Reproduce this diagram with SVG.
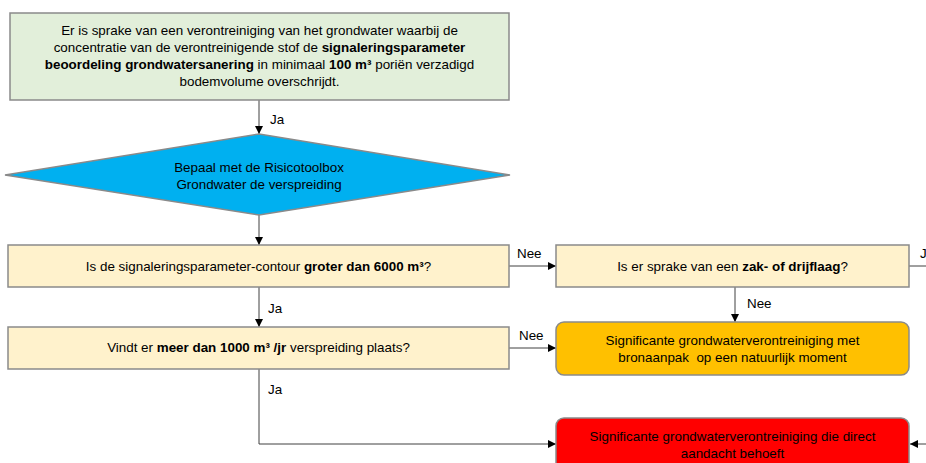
<svg xmlns="http://www.w3.org/2000/svg" width="926" height="463" viewBox="0 0 926 463">
<defs>
<marker id="ah" viewBox="0 0 10 10" refX="10" refY="5" markerWidth="8" markerHeight="8" markerUnits="userSpaceOnUse" orient="auto">
<path d="M0,0 L10,5 L0,10 z" fill="#000"/>
</marker>
<style>
text{font-family:"Liberation Sans",Arial,sans-serif;font-size:13.4px;fill:#000;white-space:pre}
.c{text-anchor:middle}
.b{font-weight:bold}
.box{stroke:#8a8a8a;stroke-width:1.5}
.ln{fill:none;stroke:#404040;stroke-width:1}
.arr{fill:none;stroke:#404040;stroke-width:1;marker-end:url(#ah)}
</style>
</defs>
<rect width="926" height="463" fill="#fff"/>
<g id="connectors">
<line class="arr" x1="259" y1="100" x2="259" y2="134"/>
<text x="270" y="124">Ja</text>
<line class="arr" x1="259" y1="215" x2="259" y2="245"/>
<line class="arr" x1="259" y1="287" x2="259" y2="327"/>
<text x="268" y="313">Ja</text>
<polyline class="arr" points="259,369 259,444 556,444"/>
<text x="268" y="394">Ja</text>
<line class="arr" x1="509" y1="266" x2="556" y2="266"/>
<text x="517" y="258">Nee</text>
<line class="arr" x1="509" y1="348" x2="556" y2="348"/>
<text x="519" y="340">Nee</text>
<line class="arr" x1="735" y1="287" x2="735" y2="322"/>
<text x="747" y="308">Nee</text>
<line class="ln" x1="909" y1="266" x2="926" y2="266"/>
<text x="920" y="258">J</text>
<line class="arr" x1="926" y1="444" x2="910" y2="444"/>
</g>
<g id="start">
<rect class="box" x="10" y="13" width="499" height="87" fill="#e2efda"/>
<text class="c" x="259.5" y="35">Er is sprake van een verontreiniging van het grondwater waarbij de</text>
<text class="c" x="259.5" y="52">concentratie van de verontreinigende stof de <tspan class="b">signaleringsparameter</tspan></text>
<text class="c" x="259.5" y="69"><tspan class="b">beoordeling grondwatersanering</tspan> in minimaal <tspan class="b">100 m³</tspan> poriën verzadigd</text>
<text class="c" x="259.5" y="86">bodemvolume overschrijdt.</text>
</g>
<g id="bepaal">
<polygon class="box" points="259,134 510,175 259,215 5,175" fill="#00b0f0"/>
<text class="c" x="259" y="172">Bepaal met de Risicotoolbox</text>
<text class="c" x="259" y="189">Grondwater de verspreiding</text>
</g>
<g id="contour">
<rect class="box" x="8" y="245" width="501" height="42" fill="#fff2cc"/>
<text class="c" x="258.5" y="271">Is de signaleringsparameter-contour <tspan class="b">groter dan 6000 m³</tspan>?</text>
</g>
<g id="verspreiding">
<rect class="box" x="8" y="327" width="501" height="42" fill="#fff2cc"/>
<text class="c" x="258.5" y="352">Vindt er <tspan class="b">meer dan 1000 m³ /jr</tspan> verspreiding plaats?</text>
</g>
<g id="laag">
<rect class="box" x="556" y="245" width="353" height="42" fill="#fff2cc"/>
<text class="c" x="732.5" y="271">Is er sprake van een <tspan class="b">zak- of drijflaag</tspan>?</text>
</g>
<g id="natuurlijk">
<rect class="box" x="556" y="322" width="353" height="53" rx="8" fill="#ffc000"/>
<text class="c" x="732.5" y="345">Significante grondwaterverontreiniging met</text>
<text class="c" x="732.5" y="362">bronaanpak  op een natuurlijk moment</text>
</g>
<g id="direct">
<rect class="box" x="556" y="418" width="353" height="60" rx="8" fill="#ff0000"/>
<text class="c" x="732.5" y="441">Significante grondwaterverontreiniging die direct</text>
<text class="c" x="732.5" y="458">aandacht behoeft</text>
</g>
</svg>
